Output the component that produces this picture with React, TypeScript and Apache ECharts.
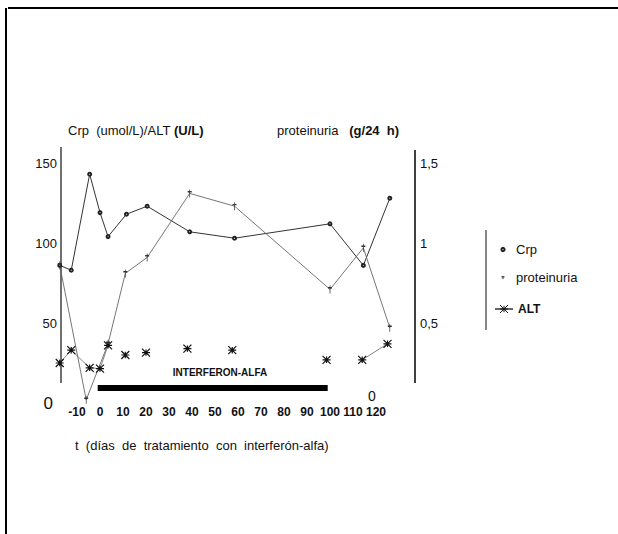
import React, { useEffect, useRef } from 'react';
import * as echarts from 'echarts';

const FONT = '"Liberation Sans", Arial, sans-serif';

// Días (t) y valores de cada serie
const CRP_DAYS = [-17.5, -12.5, -4.5, 0, 3.5, 11.5, 20.5, 39, 58.5, 100, 114.5, 126];
const CRP_VALUES = [86, 83, 143, 119, 104, 118, 123, 107, 103, 112, 86, 128];

const PROT_DAYS = [-17.5, -6, 3.5, 11, 20.5, 39, 58.5, 100, 114.5, 126];
const PROT_VALUES = [0.86, 0.02, 0.37, 0.81, 0.91, 1.31, 1.23, 0.71, 0.97, 0.47];

const ALT_DAYS = [-17.5, -12.5, -4.5, 0, 3.5, 11, 20, 38, 57.5, 98.5, 114, 125];
const ALT_VALUES = [25, 33, 22, 21.5, 36, 30, 31.5, 34, 33, 27, 27, 37];
// whether the segment to the next ALT point is drawn
const ALT_LINKED = [true, true, true, true, false, false, false, false, false, false, true];

const IFN_DAYS = [-1, 99];
const IFN_LEVEL = 9.4;

const X_TICKS = [-10, 0, 10, 20, 30, 40, 50, 60, 70, 80, 90, 100, 110, 120];
const LEFT_TICKS = [0, 50, 100, 150];
const RIGHT_TICKS = [0.5, 1, 1.5];
const RIGHT_TICK_LABELS = ['0,5', '1', '1,5'];

const DAGGER = 'path://M2,0L2,10M0,3L4,3';
const STAR = 'path://M0,0L10,10M10,0L0,10M0,5L10,5M5,1L5,9';

function buildAlt() {
  const out: any[] = [];
  ALT_DAYS.forEach((d, i) => {
    out.push([d, ALT_VALUES[i]]);
    if (i < ALT_DAYS.length - 1 && !ALT_LINKED[i]) out.push([d, null]);
  });
  return out;
}

export default function App() {
  const ref = useRef<HTMLDivElement>(null);
  useEffect(() => {
    if (!ref.current) return;
    const chart = echarts.init(ref.current, undefined, { renderer: 'svg' });
    const axisBase = {
      axisLine: { show: false },
      axisTick: { show: false },
      splitLine: { show: false },
    };
    const option: any = {
      animation: false,
      backgroundColor: '#fff',
      textStyle: { fontFamily: FONT },
      grid: { left: 54, right: 196, top: 147, bottom: 131 },
      xAxis: {
        type: 'value',
        min: -20,
        max: 140,
        interval: 10,
        ...axisBase,
        axisLabel: {
          formatter: (v: number) => (X_TICKS.includes(v) ? String(v) : ''),
          fontWeight: 'bold',
          fontSize: 12,
          color: '#111',
          margin: 3,
          fontFamily: FONT,
        },
      },
      yAxis: [
        {
          type: 'value',
          min: 0,
          max: 160,
          interval: 50,
          ...axisBase,
          axisLabel: {
            margin: -3,
            fontSize: 13,
            color: '#111',
            fontFamily: FONT,
            formatter: (v: number) =>
              v === 0 ? '{z|0}' : LEFT_TICKS.includes(v) ? String(v) : '',
            rich: { z: { fontSize: 17, padding: [0, 4, 0, 0], color: '#111', fontFamily: FONT } },
          },
        },
        {
          type: 'value',
          position: 'right',
          min: 0,
          max: 1.6,
          interval: 0.5,
          ...axisBase,
          axisLabel: {
            margin: -2,
            fontSize: 13,
            color: '#111',
            fontFamily: FONT,
            formatter: (v: number) => {
              const i = RIGHT_TICKS.findIndex((r) => Math.abs(r - v) < 1e-9);
              return i >= 0 ? RIGHT_TICK_LABELS[i] : '';
            },
          },
        },
      ],
      legend: [
        {
          data: [{ name: 'Crp' }, { name: 'proteinuria' }],
          orient: 'vertical',
          left: 494,
          top: 243,
          padding: 0,
          itemWidth: 16,
          itemHeight: 4,
          itemGap: 15,
          selectedMode: false,
          lineStyle: { opacity: 0 },
          itemStyle: { borderWidth: 1 },
          textStyle: { fontSize: 13, color: '#111', fontFamily: FONT },
        },
        {
          data: [{ name: 'ALT' }],
          orient: 'vertical',
          left: 494,
          top: 303,
          padding: 0,
          itemWidth: 18,
          itemHeight: 10,
          selectedMode: false,
          itemStyle: { borderWidth: 1 },
          textStyle: { fontSize: 12, fontWeight: 'bold', color: '#111', fontFamily: FONT },
        },
      ],
      series: [
        {
          name: 'interferón-alfa',
          type: 'line',
          data: IFN_DAYS.map((d) => [d, IFN_LEVEL]),
          symbol: 'none',
          silent: true,
          lineStyle: { color: '#000', width: 6, cap: 'butt' },
          z: 1,
        },
        {
          name: 'Crp',
          type: 'line',
          data: CRP_DAYS.map((d, i) => [d, CRP_VALUES[i]]),
          symbol: 'emptyCircle',
          symbolSize: 3,
          clip: false,
          lineStyle: { color: '#333', width: 1 },
          itemStyle: { color: '#222', borderColor: '#222', borderWidth: 1 },
          z: 3,
        },
        {
          name: 'proteinuria',
          type: 'line',
          yAxisIndex: 1,
          data: PROT_DAYS.map((d, i) => [d, PROT_VALUES[i]]),
          symbol: DAGGER,
          symbolSize: [4, 8],
          clip: false,
          lineStyle: { color: '#666', width: 0.9 },
          itemStyle: { color: '#333', borderColor: '#333', borderWidth: 1 },
          z: 3,
        },
        {
          name: 'ALT',
          type: 'line',
          data: buildAlt(),
          symbol: STAR,
          symbolSize: 8,
          connectNulls: false,
          clip: false,
          lineStyle: { color: '#666', width: 0.8 },
          itemStyle: { color: '#111', borderColor: '#111', borderWidth: 1.2 },
          z: 4,
        },
      ],
      graphic: [
        { type: 'line', shape: { x1: 8, y1: 8, x2: 618, y2: 8 }, style: { stroke: '#000', lineWidth: 2 } },
        { type: 'line', shape: { x1: 6, y1: 8, x2: 6, y2: 534 }, style: { stroke: '#000', lineWidth: 2 } },
        { type: 'line', shape: { x1: 61, y1: 147, x2: 61, y2: 383 }, style: { stroke: '#111', lineWidth: 1.2 } },
        { type: 'line', shape: { x1: 415, y1: 150, x2: 415, y2: 383 }, style: { stroke: '#000', lineWidth: 1.5 } },
        { type: 'line', shape: { x1: 486, y1: 230, x2: 486, y2: 330 }, style: { stroke: '#111', lineWidth: 1 } },
        {
          type: 'text',
          x: 68,
          y: 130,
          style: {
            text: '{a|Crp  (umol/L)/ALT }{b|(U/L)}',
            verticalAlign: 'middle',
            rich: {
              a: { fontSize: 13, fontFamily: FONT, fill: '#111' },
              b: { fontSize: 13, fontFamily: FONT, fontWeight: 'bold', fill: '#111' },
            },
          },
        },
        {
          type: 'text',
          x: 277,
          y: 130,
          style: {
            text: '{a|proteinuria   }{b|(g/24  h)}',
            verticalAlign: 'middle',
            rich: {
              a: { fontSize: 13, fontFamily: FONT, fill: '#111' },
              b: { fontSize: 13, fontFamily: FONT, fontWeight: 'bold', fill: '#111' },
            },
          },
        },
        {
          type: 'text',
          x: 220,
          y: 372,
          style: {
            text: 'INTERFERON-ALFA',
            align: 'center',
            verticalAlign: 'middle',
            fontSize: 10,
            fontWeight: 'bold',
            fontFamily: FONT,
            fill: '#111',
          },
        },
        {
          type: 'text',
          x: 372,
          y: 396,
          style: { text: '0', align: 'center', verticalAlign: 'middle', fontSize: 14, fontFamily: FONT, fill: '#111' },
        },
        {
          type: 'text',
          x: 75,
          y: 445,
          style: {
            text: 't  (días  de  tratamiento  con  interferón-alfa)',
            verticalAlign: 'middle',
            fontSize: 13,
            fontFamily: FONT,
            fill: '#111',
          },
        },
      ],
    };
    chart.setOption(option);
    return () => chart.dispose();
  }, []);
  return (
    <div
      ref={ref}
      style={{ position: 'fixed', left: 0, top: 0, width: 618, height: 534 }}
    />
  );
}
